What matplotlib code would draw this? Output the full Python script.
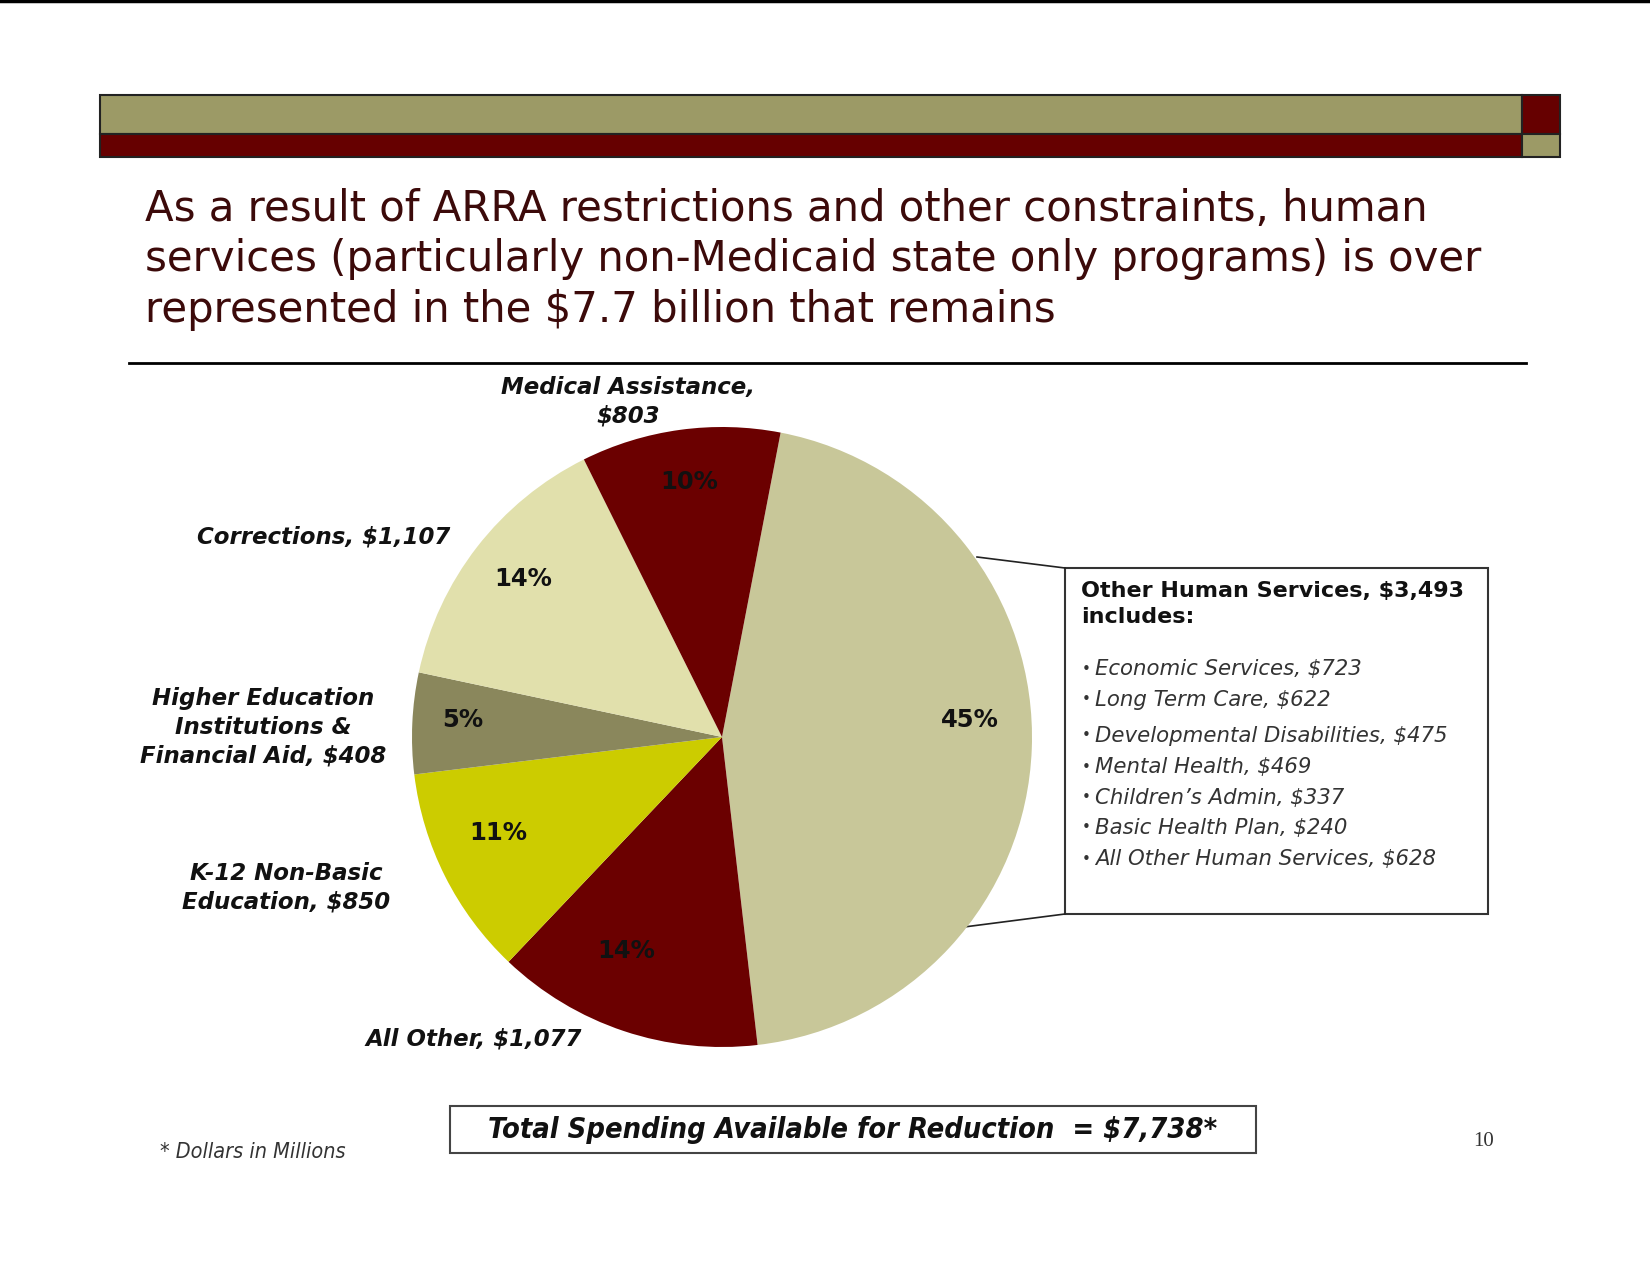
import matplotlib
matplotlib.use('Agg')

import matplotlib.pyplot as plt
from matplotlib.patches import Rectangle

# ==============================
# DATA
# ==============================

categories = ["Other Human Services", "All Other", "K-12 Non-Basic Education",
              "Higher Education", "Corrections", "Medical Assistance"]
values = [3493, 1077, 850, 408, 1107, 803]
slice_colors = ["#C8C799", "#6B0000", "#CCCC00", "#8A875C", "#E1E0AC", "#6B0000"]

outer_labels = ["Medical Assistance,\n$803", "Corrections, $1,107",
                "Higher Education\nInstitutions &\nFinancial Aid, $408",
                "K-12 Non-Basic\nEducation, $850", "All Other, $1,077"]
outer_xy = [(628, 402), (324, 537), (263, 727), (286, 888), (474, 1039)]
# percent label spots, in pie radius units (same order as values)
pct_xy = [(0.80, 0.055), (-0.31, -0.69), (-0.723, -0.31),
          (-0.835, 0.055), (-0.642, 0.51), (-0.106, 0.823)]

box_title = "Other Human Services, $3,493\nincludes:"
box_items = ["Economic Services, $723", "Long Term Care, $622",
             "Developmental Disabilities, $475", "Mental Health, $469",
             "Children\u2019s Admin, $337", "Basic Health Plan, $240",
             "All Other Human Services, $628"]
box_item_y = [669, 700, 736, 767, 798, 828, 859]

title_lines = ["As a result of ARRA restrictions and other constraints, human",
               "services (particularly non-Medicaid state only programs) is over",
               "represented in the $7.7 billion that remains"]

W, H = 1650, 1275
OLIVE = "#9C9A66"
MAROON = "#660000"

fig = plt.figure(figsize=(W / 100, H / 100), dpi=100)
fig.patch.set_facecolor("white")

# background axes in pixel coordinates
bg = fig.add_axes([0, 0, 1, 1])
bg.set_xlim(0, W)
bg.set_ylim(H, 0)
bg.axis("off")

# top edge line
bg.plot([0, W], [1, 1], color="black", lw=2.5)

# header bars
bg.add_patch(Rectangle((100, 95), 1422, 39, facecolor=OLIVE, edgecolor="#222222", lw=1.5))
bg.add_patch(Rectangle((100, 134), 1422, 23, facecolor=MAROON, edgecolor="#222222", lw=1.5))
bg.add_patch(Rectangle((1522, 95), 38, 39, facecolor=MAROON, edgecolor="#222222", lw=1.5))
bg.add_patch(Rectangle((1522, 134), 38, 23, facecolor=OLIVE, edgecolor="#222222", lw=1.5))

# title
for i, line in enumerate(title_lines):
    bg.text(145, 209 + i * 50.5, line, fontsize=30.2, color="#3C0A0A",
            ha="left", va="center", family="DejaVu Sans")

# rule under title
bg.plot([129, 1526], [363, 363], color="black", lw=2)

# connector lines from pie to box
bg.plot([977, 1065], [557, 568], color="#222222", lw=1.2)
bg.plot([964, 1065], [927, 914], color="#222222", lw=1.2)

# box of sub-items
bg.add_patch(Rectangle((1065, 568), 423, 346, facecolor="white", edgecolor="#333333", lw=1.5))
bg.text(1081, 604, box_title, fontsize=16, fontweight="bold", color="#111111",
        ha="left", va="center", linespacing=1.4)
for y, item in zip(box_item_y, box_items):
    bg.text(1082, y, "\u2022", fontsize=11, color="#333333", ha="left", va="center")
    bg.text(1095, y, item, fontsize=15.3, style="italic", color="#333333",
            ha="left", va="center")

# outer labels
for (x, y), lab in zip(outer_xy, outer_labels):
    bg.text(x, y, lab, fontsize=16.5, fontweight="bold", style="italic",
            color="#111111", ha="center", va="center", linespacing=1.32)

# footer
bg.add_patch(Rectangle((450, 1106), 806, 47, facecolor="white", edgecolor="#444444", lw=1.5))
bg.text(853, 1130, "Total Spending Available for Reduction  = $7,738*", fontsize=20.8,
        fontweight="bold", style="italic", fontstretch="condensed", ha="center",
        va="center", color="#111111", family="DejaVu Sans")
bg.text(160, 1152, "* Dollars in Millions", fontsize=15.5, style="italic",
        fontstretch="condensed", ha="left", va="center", color="#333333",
        family="DejaVu Sans")
bg.text(1484, 1142, "10", fontsize=15, ha="center", va="center", color="#333333",
        family=["Liberation Serif", "DejaVu Serif"])

# ==============================
# PIE
# ==============================

cx, cy, r = 722, 737, 310
pie_ax = fig.add_axes([(cx - r) / W, (H - cy - r) / H, 2 * r / W, 2 * r / H])
wedges, texts, autotexts = pie_ax.pie(
    values, colors=slice_colors, startangle=79.1, counterclock=False,
    autopct="%1.0f%%", pctdistance=0.8,
    wedgeprops=dict(linewidth=0), textprops=dict(fontsize=17.5, fontweight="bold",
                                                 color="#111111"))
for t, xy in zip(autotexts, pct_xy):
    t.set_position(xy)
pie_ax.set_xlim(-1, 1)
pie_ax.set_ylim(-1, 1)
pie_ax.set_aspect("equal")
pie_ax.axis("off")

fig.savefig("out.png", dpi=100)
